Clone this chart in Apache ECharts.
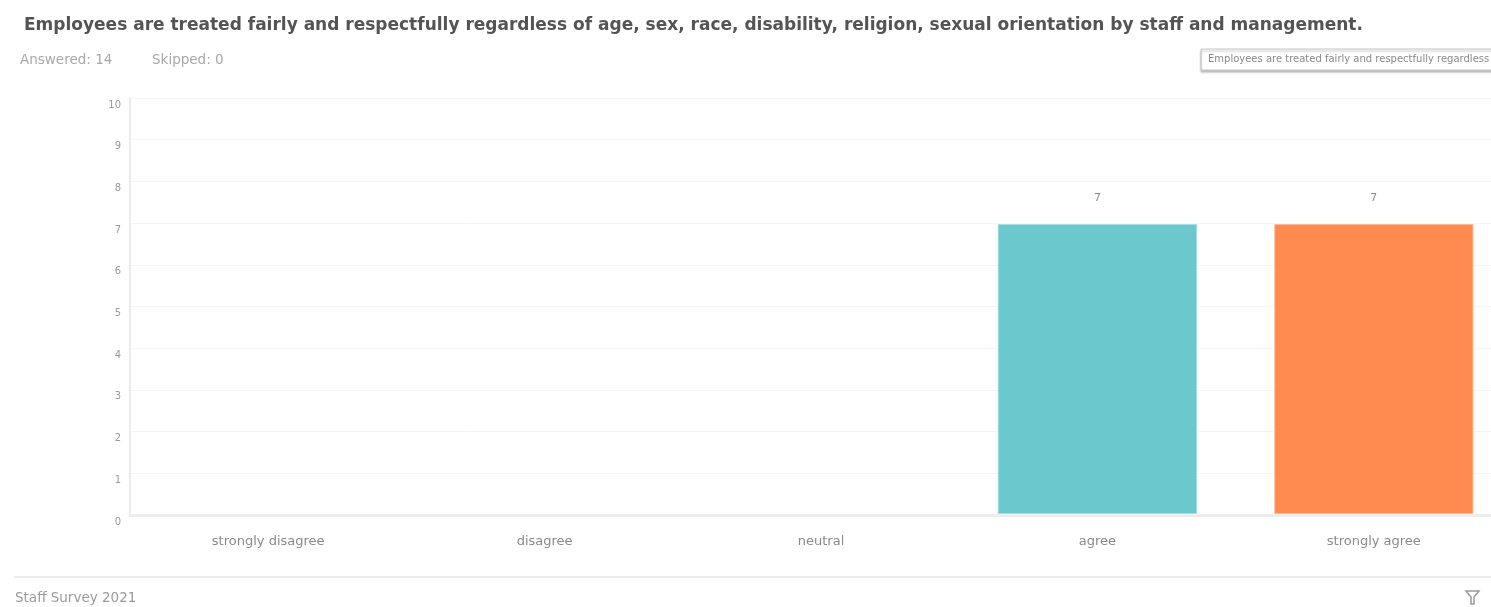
<!DOCTYPE html>
<html>
<head>
<meta charset="utf-8">
<script src="https://cdn.jsdelivr.net/npm/echarts@6/dist/echarts.min.js"></script>
<style>
html,body{margin:0;padding:0;background:#fff;overflow:hidden;}
#chart{width:1491px;height:607px;}
</style>
</head>
<body>
<div id="chart"></div>
<script>
const titleText = "Employees are treated fairly and respectfully regardless of age, sex, race, disability, religion, sexual orientation by staff and management.";
const answeredText = "Answered: 14";
const skippedText = "Skipped: 0";
const footerText = "Staff Survey 2021";
const boxText = "Employees are treated fairly and respectfully regardless of age, sex";
const categories = ["strongly disagree", "disagree", "neutral", "agree", "strongly agree"];
const counts = [0, 0, 0, 7, 7];
const barColors = ["#00BF6F", "#507CB6", "#F9BE00", "#6BC8CD", "#FF8B4F"];
const yTicks = [0, 1, 2, 3, 4, 5, 6, 7, 8, 9, 10];

const chart = echarts.init(document.getElementById('chart'), null, {renderer: 'canvas'});
const FONT = '"DejaVu Sans", "Open Sans", sans-serif';

chart.setOption({
  animation: false,
  textStyle: {fontFamily: FONT},
  title: {
    text: titleText,
    left: 19, top: 12,
    textStyle: {fontFamily: FONT, fontSize: 17, fontWeight: 'bold', color: '#545454'}
  },
  grid: {left: 130, width: 1382, top: 98, height: 417, containLabel: false, outerBoundsMode: 'none'},
  xAxis: {
    type: 'category',
    data: categories,
    axisLine: {show: true, lineStyle: {color: '#ececec', width: 3}},
    axisTick: {show: false},
    axisLabel: {color: '#8a8a8a', fontSize: 13, margin: 20, fontFamily: FONT},
    splitLine: {show: false}
  },
  yAxis: {
    type: 'value',
    min: yTicks[0], max: yTicks[yTicks.length - 1], interval: 1,
    axisLine: {show: true, lineStyle: {color: '#ebebeb', width: 2}},
    axisTick: {show: false},
    axisLabel: {color: '#9a9a9a', fontSize: 10, margin: 9, verticalAlign: 'top', padding: [2, 0, 0, 0], fontFamily: FONT},
    splitLine: {show: true, lineStyle: {color: '#f4f4f4', width: 1}}
  },
  series: [{
    type: 'bar',
    data: counts.map((v, i) => ({
      value: v,
      itemStyle: {color: barColors[i], borderColor: 'rgba(255,255,255,0.4)', borderWidth: v > 0 ? 2 : 0}
    })),
    barWidth: '72.8%',
    label: {
      show: true, position: 'top', distance: 19,
      color: '#8a8a8a', fontSize: 11, fontFamily: FONT,
      formatter: p => p.value > 0 ? String(p.value) : ''
    }
  }],
  graphic: [
    {type: 'text', left: 20, top: 53,
      style: {text: answeredText, fill: '#a8a8a8', font: '13.5px ' + FONT}},
    {type: 'text', left: 152, top: 53,
      style: {text: skippedText, fill: '#a8a8a8', font: '13.5px ' + FONT}},
    {type: 'rect', shape: {x: 1201, y: 49, width: 320, height: 21},
      style: {fill: '#fff', stroke: '#c4c4c4', lineWidth: 1, shadowColor: 'rgba(0,0,0,0.25)', shadowOffsetY: 2, shadowBlur: 2}},
    {type: 'text', x: 1208, y: 54,
      style: {text: boxText, fill: '#8a8a8a', font: '10px ' + FONT}},
    {type: 'rect', shape: {x: 14, y: 576, width: 1500, height: 2}, style: {fill: '#ededed'}},
    {type: 'text', left: 15, top: 591,
      style: {text: footerText, fill: '#9a9a9a', font: '13.5px ' + FONT}},
    {type: 'polygon', shape: {points: [[1466, 591], [1479, 591], [1474, 597], [1474, 604], [1471, 604], [1471, 597]]},
      style: {fill: '#fff', stroke: '#9a9a9a', lineWidth: 1.5}}
  ]
});
</script>
</body>
</html>
